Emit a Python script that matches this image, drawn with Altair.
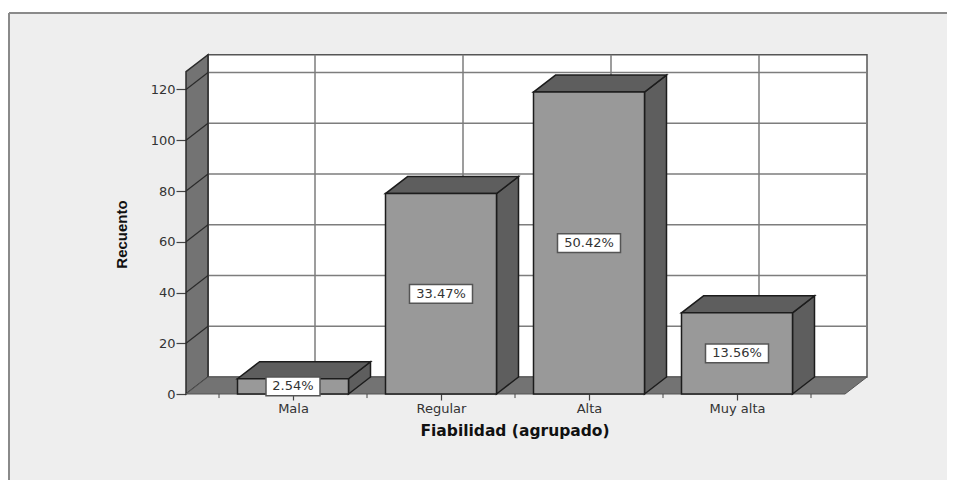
import altair as alt

categories = ["Mala", "Regular", "Alta", "Muy alta"]
counts = [6, 79, 119, 32]
percents = ["2.54%", "33.47%", "50.42%", "13.56%"]
y_ticks = [0, 20, 40, 60, 80, 100, 120]
minor_ticks = [-0.5, 0.5, 1.5, 2.5, 3.5]

W, H = 938, 478
PX_X, PX_Y = 148.0, 2.5375
X0, Y0 = 284 / PX_X, 381 / PX_Y  # category 0 and count 0 inside the panel
DX, DY = 22 / PX_X, 17 / PX_Y
HW = 55.5 / PX_X
LEFT, RIGHT, TOP = -107 / PX_X, 552 / PX_X, 127.0
X_MIN, X_MAX = -X0, W / PX_X - X0
Y_MIN, Y_MAX = Y0 - H / PX_Y, Y0

xs = alt.Scale(domain=[X_MIN, X_MAX], nice=False, zero=False)
ys = alt.Scale(domain=[Y_MIN, Y_MAX], nice=False, zero=False)
X = lambda f="x": alt.X(f"{f}:Q", scale=xs, axis=None)
Y = lambda f="y": alt.Y(f"{f}:Q", scale=ys, axis=None)
Xp, Yp = alt.X2("x2:Q"), alt.Y2("y2:Q")

GRID, DARK = "#7d7d7d", "#2b2b2b"


def df(rows):
    return alt.Data(values=rows)


# axes (carried by an invisible first layer)
axes = alt.Chart(df([{"x": 0, "y": 0}])).mark_point(opacity=0).encode(
    x=alt.X("x:Q", scale=xs, axis=alt.Axis(
        values=list(range(len(categories))),
        labelExpr="['Mala','Regular','Alta','Muy alta'][datum.value]",
        orient="bottom", offset=-(H - 381), domain=False, grid=False,
        tickColor="#444444", tickSize=6, tickWidth=1.2,
        labelFont="DejaVu Sans", labelFontSize=13, labelColor="#333333", labelPadding=2,
        title="Fiabilidad (agrupado)", titleFont="DejaVu Sans", titleFontSize=15.5, titleFontWeight="bold",
        titleColor="#111111", titlePadding=8, titleX=505.5,
    )),
    y=alt.Y("y:Q", scale=ys, axis=alt.Axis(
        values=y_ticks, orient="left", offset=-177, domain=False, grid=False,
        tickColor="#444444", tickSize=10, tickWidth=1.2,
        labelFont="DejaVu Sans", labelFontSize=13, labelColor="#333333", labelPadding=1,
        title="Recuento", titleFont="Liberation Sans", titleFontSize=15, titleFontWeight="bold",
        titleColor="#111111", titlePadding=21, titleY=221,
    )),
)

# panel border: only the top and left edges are in the picture
border_top = alt.Chart(df([{"x": X_MIN, "x2": X_MAX, "y": Y_MAX}])).mark_rule(
    color="#8a8a8a", strokeWidth=2
).encode(x=X(), x2=Xp, y=Y())
border_left = alt.Chart(df([{"x": X_MIN, "y": Y_MIN, "y2": Y_MAX}])).mark_rule(
    color="#8a8a8a", strokeWidth=2
).encode(x=X(), y=Y(), y2=Yp)

# back wall
back = alt.Chart(df([{"x": LEFT + DX, "x2": RIGHT + DX, "y": DY, "y2": TOP + DY}])).mark_rect(
    fill="white", stroke="#555555", strokeWidth=1.5
).encode(x=X(), x2=Xp, y=Y(), y2=Yp)

# grid on the back wall
hgrid = alt.Chart(df([{"x": LEFT + DX, "x2": RIGHT + DX, "y": v + DY} for v in y_ticks[1:]])).mark_rule(
    color=GRID, strokeWidth=1.5
).encode(x=X(), x2=Xp, y=Y())
vgrid = alt.Chart(df([{"x": i + DX, "y": DY, "y2": TOP + DY} for i in range(len(categories))])).mark_rule(
    color=GRID, strokeWidth=1.5
).encode(x=X(), y=Y(), y2=Yp)

# side wall
wall = alt.Chart(df([{"x": LEFT, "y": 0, "y2": TOP}, {"x": LEFT + DX, "y": DY, "y2": TOP + DY}])).mark_area(
    fill="#737373", stroke=DARK, strokeWidth=1.5, orient="vertical"
).encode(x=X(), y=Y(), y2=Yp)
diag_rows = []
for v in y_ticks[1:]:
    diag_rows += [{"x": LEFT, "y": v, "g": v}, {"x": LEFT + DX, "y": v + DY, "g": v}]
diag = alt.Chart(df(diag_rows)).mark_line(color=DARK, strokeWidth=1.2).encode(
    x=X(), y=Y(), detail="g:N"
)

# floor
floor = alt.Chart(df([{"y": 0, "x": LEFT, "x2": RIGHT}, {"y": DY, "x": LEFT + DX, "x2": RIGHT + DX}])).mark_area(
    fill="#737373", stroke="#555555", strokeWidth=1, orient="horizontal"
).encode(y=Y(), x=X(), x2=Xp)

# bars
layers = []
for i, v in enumerate(counts):
    l, r = i - HW, i + HW
    side = alt.Chart(df([{"x": r, "y": 0, "y2": v}, {"x": r + DX, "y": DY, "y2": v + DY}])).mark_area(
        fill="#5e5e5e", stroke="#1c1c1c", strokeWidth=1.5, orient="vertical"
    ).encode(x=X(), y=Y(), y2=Yp)
    top = alt.Chart(df([{"y": v, "x": l, "x2": r}, {"y": v + DY, "x": l + DX, "x2": r + DX}])).mark_area(
        fill="#5e5e5e", stroke="#1c1c1c", strokeWidth=1.5, orient="horizontal"
    ).encode(y=Y(), x=X(), x2=Xp)
    front = alt.Chart(df([{"x": l, "x2": r, "y": 0, "y2": v}])).mark_rect(
        fill="#999999", stroke="#1c1c1c", strokeWidth=1.5
    ).encode(x=X(), x2=Xp, y=Y(), y2=Yp)
    layers += [side, top, front]

# percent labels
box_rows = []
for i, (v, p) in enumerate(zip(counts, percents)):
    half = (27 if len(p) < 6 else 31.5) / PX_X
    box_rows.append({"x": i - half, "x2": i + half, "xc": i, "y": v / 2 - 3.7, "y2": v / 2 + 3.7, "yc": v / 2, "p": p})
boxes = alt.Chart(df(box_rows)).mark_rect(fill="white", stroke="#555555", strokeWidth=1.5).encode(
    x=X(), x2=Xp, y=Y(), y2=Yp
)
texts = alt.Chart(df(box_rows)).mark_text(font="DejaVu Sans", fontSize=13, color="#333333").encode(
    x=X("xc"), y=Y("yc"), text="p:N"
)

# minor ticks below the floor
minor = alt.Chart(df([{"x": m, "y": 0, "y2": -1.6} for m in minor_ticks])).mark_rule(
    color="#444444", strokeWidth=1
).encode(x=X(), y=Y(), y2=Yp)

chart = alt.layer(axes, border_top, border_left, back, hgrid, vgrid, wall, diag, floor, *layers, boxes, texts, minor).resolve_axis(
    x="independent", y="independent"
).properties(
    width=W, height=H,
    padding={"left": 1, "top": 5, "right": 0, "bottom": 0},
    autosize=alt.AutoSizeParams(type="none"),
    background="white",
).configure_view(fill="#eeeeee", stroke=None)

chart.save("out.html", embed_options={"renderer": "svg", "actions": False})
